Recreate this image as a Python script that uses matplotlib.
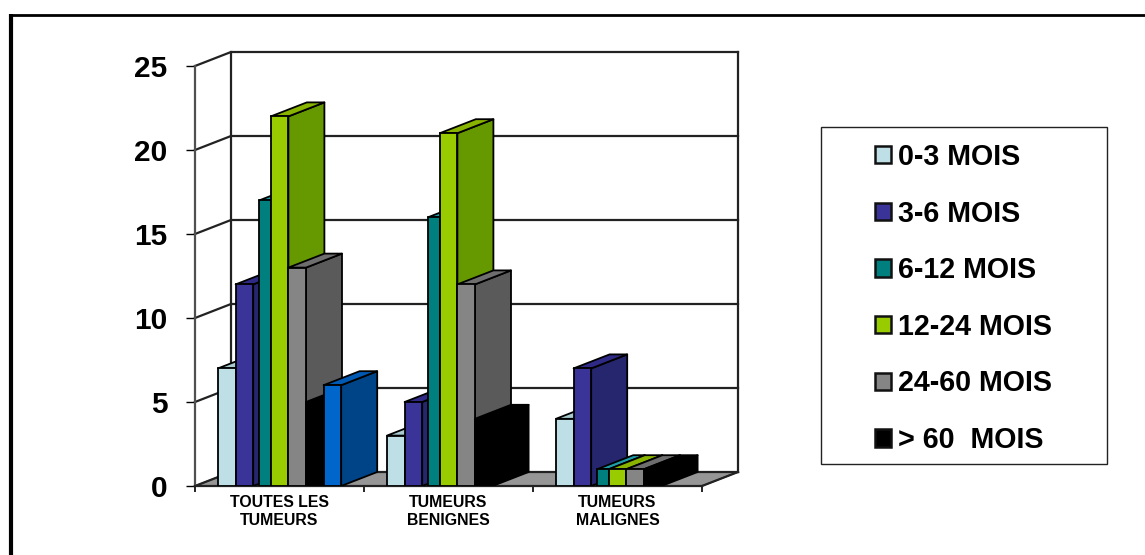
import matplotlib
matplotlib.use("Agg")
import matplotlib.pyplot as plt
from matplotlib.lines import Line2D
from matplotlib.patches import Patch, Rectangle

plt.rcParams["font.family"] = ["Liberation Sans", "DejaVu Sans"]
plt.rcParams["font.weight"] = "bold"

categories = ["TOUTES LES\nTUMEURS", "TUMEURS\nBENIGNES", "TUMEURS\nMALIGNES"]
series_labels = ["0-3 MOIS", "3-6 MOIS", "6-12 MOIS", "12-24 MOIS", "24-60 MOIS", "> 60  MOIS", None]
series_values = [
    [7, 3, 4],
    [12, 5, 7],
    [17, 16, 1],
    [22, 21, 1],
    [13, 12, 1],
    [5, 4, 1],
    [6, None, None],
]
y_ticks = [0, 5, 10, 15, 20, 25]

front_colors = ["#BEDFE6", "#3A3398", "#007F7F", "#99CC00", "#858585", "#000000", "#0066CC"]
side_colors = ["#9FC0C6", "#26266E", "#005A5A", "#669900", "#5A5A5A", "#000000", "#004488"]
top_colors = ["#A9CBD0", "#2F2A85", "#1E9FA8", "#88B400", "#6E6E6E", "#000000", "#0059B3"]

W, H = 1145, 555
fig = plt.figure(figsize=(W / 100, H / 100), dpi=100, facecolor="white")


def frac_rect(x0, y0, x1, y1):
    """Figure-fraction rectangle from pixel edges measured from the top left."""
    return x0 / W, 1 - y1 / H, (x1 - x0) / W, (y1 - y0) / H


# Axes hold the front plane in category/value units plus the oblique depth offset.
PX_CAT = 169.0
PX_VAL = 16.8
DEPTH_X = 36 / PX_CAT
DEPTH_Y = 14 / PX_VAL
ax = fig.add_axes(frac_rect(195, 52, 738, 486))
ax.set_xlim(0, 3 + DEPTH_X)
ax.set_ylim(0, 25 + DEPTH_Y)
ax.patch.set_alpha(0)

LINE = "#222222"
LW = 1.6

# Floor, walls and gridlines
ax.fill([0, DEPTH_X, 3 + DEPTH_X, 3], [0, DEPTH_Y, DEPTH_Y, 0],
        facecolor="#969696", edgecolor=LINE, lw=1.0, zorder=1, clip_on=False)
for t in y_ticks:
    ax.plot([0, DEPTH_X, 3 + DEPTH_X], [t, t + DEPTH_Y, t + DEPTH_Y],
            color=LINE, lw=LW, zorder=1, solid_joinstyle="miter", clip_on=False)
ax.plot([DEPTH_X, DEPTH_X], [DEPTH_Y, 25 + DEPTH_Y], color=LINE, lw=LW, zorder=1, clip_on=False)
ax.plot([3 + DEPTH_X, 3 + DEPTH_X], [DEPTH_Y, 25 + DEPTH_Y], color=LINE, lw=LW, zorder=1, clip_on=False)
ax.plot([3, 3 + DEPTH_X], [0, DEPTH_Y], color=LINE, lw=LW, zorder=1, clip_on=False)

# Clustered bars with an oblique side and top, painted left to right
BAR_W = 17.6 / PX_CAT
GROUP_START = 23.0 / PX_CAT
INSET = {2: 6 / PX_CAT}  # the 6-12 group sits slightly narrower in its slot
EDGE = "#000000"
EDGE_W = 1.3
z = 3
for c in range(len(categories)):
    for s, vals in enumerate(series_values):
        v = vals[c]
        if v is None:
            continue
        inset = INSET.get(s, 0)
        x0 = c + GROUP_START + s * BAR_W + inset
        x1 = c + GROUP_START + (s + 1) * BAR_W
        ax.fill([x1, x1 + DEPTH_X, x1 + DEPTH_X, x1], [0, DEPTH_Y, v + DEPTH_Y, v],
                facecolor=side_colors[s], edgecolor=EDGE, lw=EDGE_W, zorder=z, joinstyle="round")
        ax.fill([x0, x0 + DEPTH_X, x1 + DEPTH_X, x1], [v, v + DEPTH_Y, v + DEPTH_Y, v],
                facecolor=top_colors[s], edgecolor=EDGE, lw=EDGE_W, zorder=z, joinstyle="round")
        ax.bar(x0, v, width=x1 - x0, align="edge", color=front_colors[s],
               edgecolor=EDGE, lw=EDGE_W, zorder=z)
        z += 1

# Axes on the front plane
ax.spines["top"].set_visible(False)
ax.spines["right"].set_visible(False)
ax.spines["left"].set_bounds(0, 25)
ax.spines["bottom"].set_bounds(0, 3)
ax.spines["left"].set_color("#505050")
ax.spines["bottom"].set_color(LINE)
for side in ("left", "bottom"):
    ax.spines[side].set_linewidth(LW)
    ax.spines[side].set_zorder(2)
ax.set_yticks(y_ticks)
ax.tick_params(axis="y", length=6.5, width=1.0, color="black", labelsize=21.5, pad=13.5)
ax.set_xticks(range(len(categories) + 1))
ax.set_xticklabels([])
ax.set_xticks([i + 0.5 for i in range(len(categories))], labels=categories, minor=True)
ax.tick_params(axis="x", which="major", length=4, width=1.2, color="black")
ax.tick_params(axis="x", which="minor", length=0, labelsize=11.4, pad=6.5)
for lab in ax.get_xticklabels(minor=True):
    lab.set_linespacing(1.28)

# Legend box and entries
fig.add_artist(Rectangle((820.5 / W, 1 - 464 / H), 286.5 / W, 337 / H, transform=fig.transFigure,
                         facecolor="white", edgecolor="#222222", lw=1.0))
handles = [Patch(facecolor=front_colors[i], edgecolor="#111111", lw=1.8, label=series_labels[i])
           for i in range(6)]
fig.legend(handles=handles, loc="center", bbox_to_anchor=(963.5 / W, 1 - 298.5 / H), frameon=False,
           labelspacing=1.0, handlelength=0.55, handleheight=0.55, handletextpad=0.22,
           labelcolor="black", prop={"weight": "bold", "size": 20.6})

# Page rule along the top and left edges, running off the image
fig.add_artist(Line2D([11 / W, 11 / W, 1.0], [0.0, 1 - 15 / H, 1 - 15 / H], transform=fig.transFigure,
                      color="black", lw=2.0, solid_joinstyle="miter"))
fig.add_artist(Line2D([11 / W, 11 / W], [0.0, 1 - 14 / H], transform=fig.transFigure,
                      color="black", lw=3.0, solid_capstyle="butt"))

fig.savefig("out.png", dpi=100, facecolor="white")
